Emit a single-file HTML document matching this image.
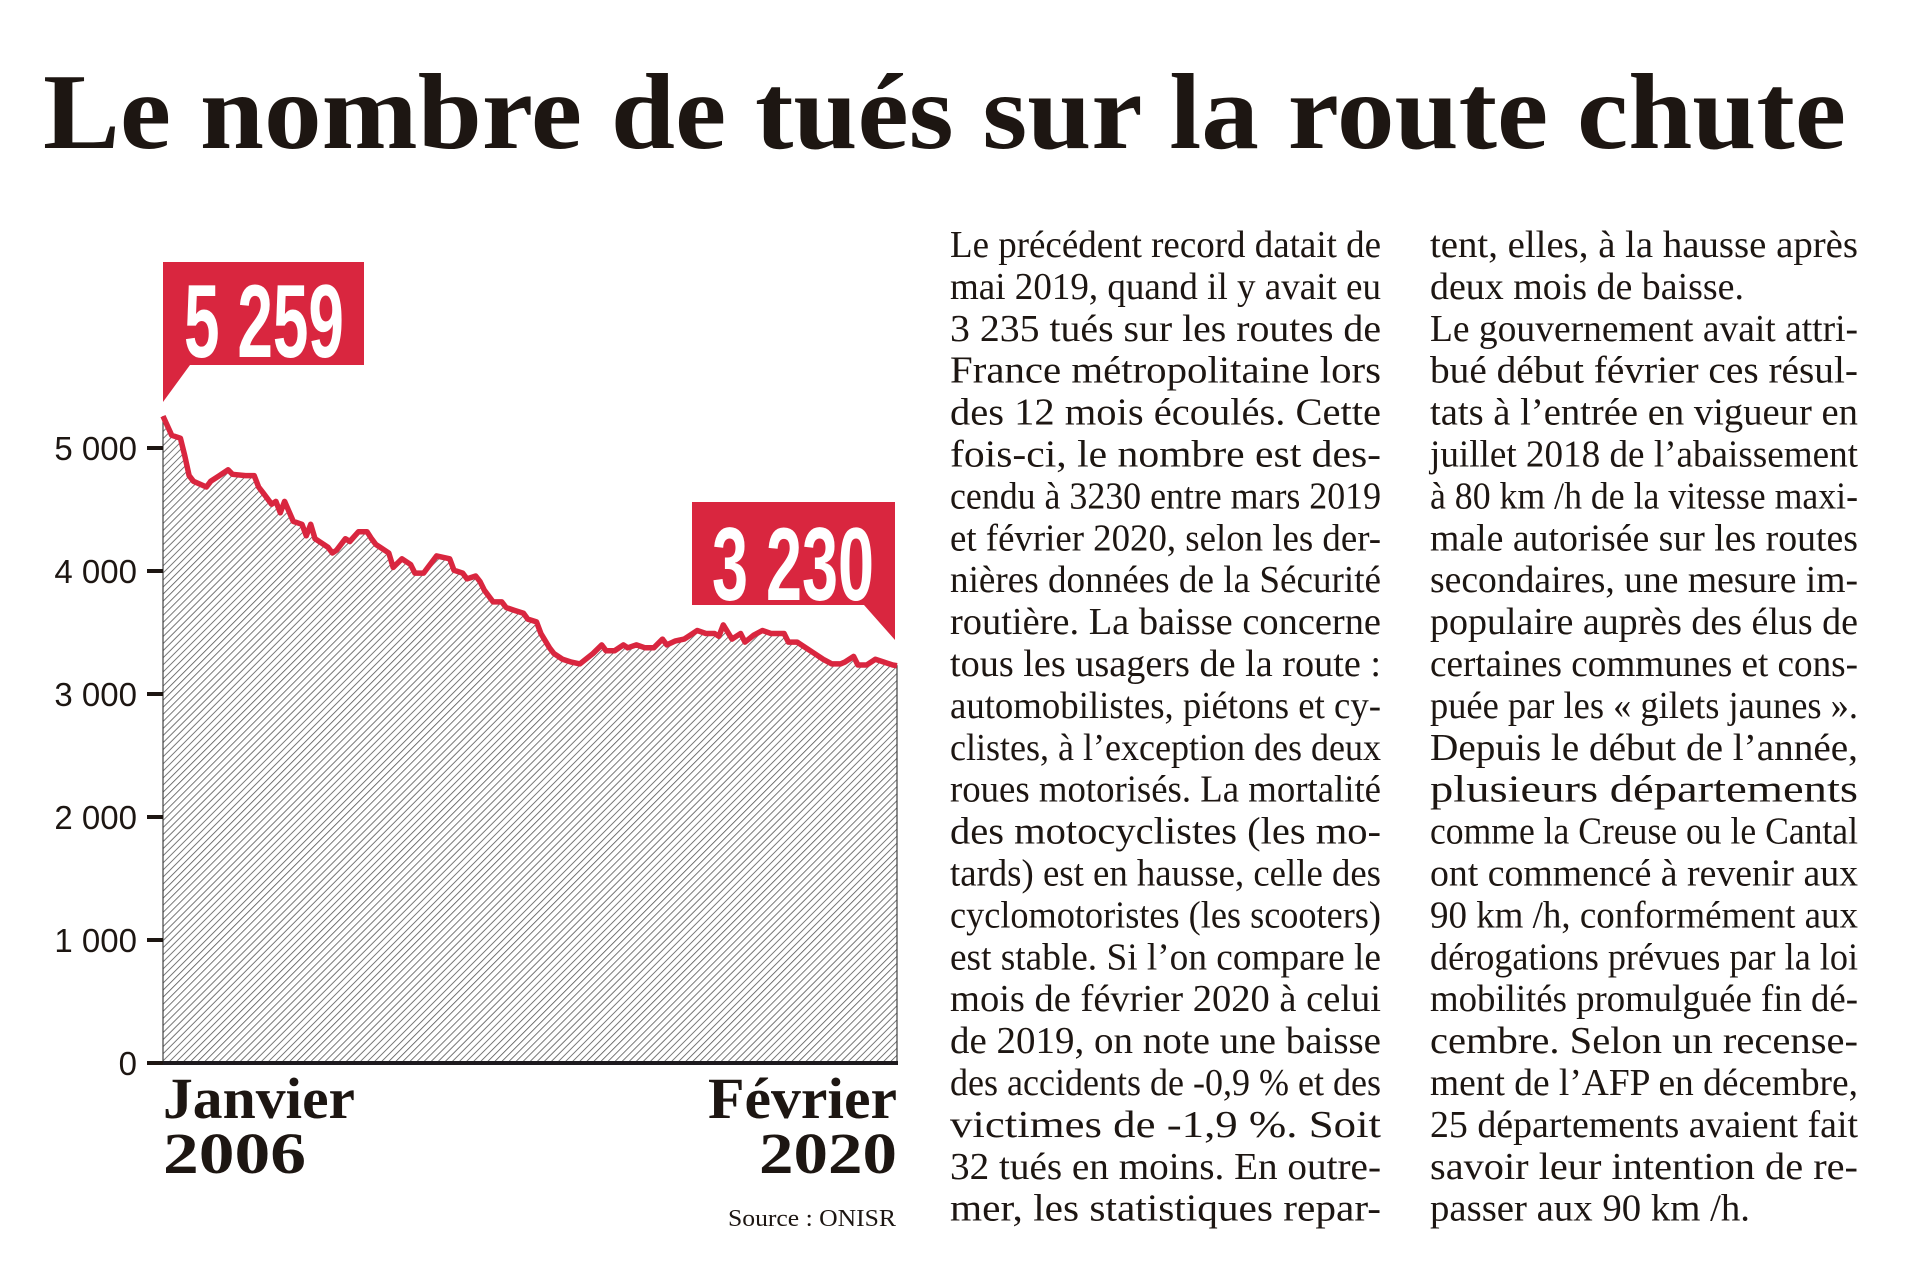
<!DOCTYPE html>
<html><head><meta charset="utf-8"><style>
html,body{margin:0;padding:0;background:#fff;}
svg{display:block;}
.body{font-family:"Liberation Serif",serif;font-size:38px;fill:#1d1612;}
</style></head><body>
<svg id="svg" width="1920" height="1278" viewBox="0 0 1920 1278" xmlns="http://www.w3.org/2000/svg">
<defs>
<pattern id="hatch" width="5" height="5" patternUnits="userSpaceOnUse" patternTransform="rotate(45)">
<rect width="5" height="5" fill="#fff"/>
<line x1="0" y1="0" x2="0" y2="5" stroke="#555" stroke-width="1.6"/>
</pattern>
</defs>
<text x="43" y="148" font-family="Liberation Serif,serif" font-weight="bold" font-size="108" fill="#1d1612" textLength="1803" lengthAdjust="spacingAndGlyphs">Le nombre de tués sur la route chute</text>
<g id="chart"></g>
<g id="col1" class="body"></g>
<g id="col2" class="body"></g>
</svg>
<script>
const months = [0,2,4,5,6,7,10,11,13,15,16,19,21,22,23,25,26,27,28,30,32,33,34,35,37,38,39,40,42,43,45,47,48,49,50,52,53,55,57,58,60,61,63,66,67,69,70,72,73,74,76,78,79,81,83,84,86,87,89,90,92,94,96,99,101,102,104,106,107,109,111,113,115,116,118,120,121,123,125,127,128,129,131,133,134,136,138,140,143,144,146,148,150,152,154,156,157,159,160,162,164,166,168,169];
const deaths = [5259,5103,5080,4940,4776,4730,4683,4730,4776,4823,4786,4776,4776,4683,4637,4543,4566,4473,4566,4403,4380,4286,4380,4263,4216,4193,4146,4170,4263,4240,4319,4319,4263,4216,4193,4146,4029,4099,4053,3983,3983,4029,4123,4099,4006,3983,3936,3959,3913,3843,3749,3749,3703,3679,3656,3609,3586,3492,3376,3329,3282,3259,3245,3329,3399,3352,3352,3399,3376,3399,3376,3376,3446,3399,3432,3446,3469,3516,3492,3492,3469,3562,3446,3492,3422,3478,3516,3492,3492,3422,3422,3376,3329,3282,3245,3245,3259,3306,3236,3236,3282,3259,3236,3230];
const yTicks = [0,1000,2000,3000,4000,5000];
const yTickLabels = ["0","1 000","2 000","3 000","4 000","5 000"];
const calloutStart = "5 259";
const calloutEnd = "3 230";

const NS = "http://www.w3.org/2000/svg";
const X0=163, X1=897, Y0=1063, PX_PER=0.123, MAXM=169;
function xs(m){return X0+(m/MAXM)*(X1-X0);}
function ys(v){return Y0-v*PX_PER;}
function mk(tag, attrs, parent, text){
  const e=document.createElementNS(NS,tag);
  for(const k in attrs) e.setAttribute(k,attrs[k]);
  if(text!==undefined) e.textContent=text;
  parent.appendChild(e); return e;
}
const chart=document.getElementById('chart');
let pts=months.map((m,i)=>xs(m).toFixed(1)+","+ys(deaths[i]).toFixed(1));
const area=mk('path',{d:"M"+xs(months[0])+","+Y0+" L"+pts.join(" L")+" L"+xs(months[months.length-1])+","+Y0+" Z",fill:"url(#hatch)",stroke:"#444","stroke-width":"1.2"},chart);


const base=mk('line',{x1:X0,y1:Y0,x2:X1+1,y2:Y0,stroke:"#1d1a1e","stroke-width":"4"},chart);


const line=mk('polyline',{points:pts.join(" "),fill:"none",stroke:"#d9263f","stroke-width":"5.5","stroke-linejoin":"round"},chart);


yTicks.forEach((v,i)=>{
  const t=mk('rect',{x:147,y:ys(v)-2,width:16,height:4,fill:"#1d1612"},chart);
  
  
  const l=mk('text',{x:137,y:ys(v)+12,"text-anchor":"end","font-family":"Liberation Sans,sans-serif","font-size":"33",fill:"#1d1612"},chart,yTickLabels[i]);
  
  
});
const c1=mk('g',{},chart);


mk('path',{d:"M163,262 H364 V365 H190 L163,402 Z",fill:"#d9263f"},c1);
mk('text',{x:184,y:357,"font-family":"Liberation Sans,sans-serif","font-weight":"bold","font-size":"104",fill:"#fff",textLength:"160",lengthAdjust:"spacingAndGlyphs"},c1,calloutStart);
const c2=mk('g',{},chart);


mk('path',{d:"M692,502 H895 V640 L864,605 H692 Z",fill:"#d9263f"},c2);
mk('text',{x:712,y:600,"font-family":"Liberation Sans,sans-serif","font-weight":"bold","font-size":"104",fill:"#fff",textLength:"162",lengthAdjust:"spacingAndGlyphs"},c2,calloutEnd);
const lab=[["Janvier",163,1118,192,"x-label-start-month"],["2006",163,1173,143,"x-label-start-year"],["Février",708,1118,189,"x-label-end-month"],["2020",759,1173,138,"x-label-end-year"]];
lab.forEach(a=>{
  const t=mk('text',{x:a[1],y:a[2],"font-family":"Liberation Serif,serif","font-weight":"bold","font-size":"58",fill:"#1d1612",textLength:a[3],lengthAdjust:"spacingAndGlyphs"},chart,a[0]);
  
  
});
const src=mk('text',{x:728,y:1226,"font-family":"Liberation Serif,serif","font-size":"24",fill:"#1d1612",textLength:"168",lengthAdjust:"spacingAndGlyphs"},chart,"Source : ONISR");



const col1=["Le précédent record datait de","mai 2019, quand il y avait eu","3 235 tués sur les routes de","France métropolitaine lors","des 12 mois écoulés. Cette","fois-ci, le nombre est des-","cendu à 3230 entre mars 2019","et février 2020, selon les der-","nières données de la Sécurité","routière. La baisse concerne","tous les usagers de la route :","automobilistes, piétons et cy-","clistes, à l’exception des deux","roues motorisés. La mortalité","des motocyclistes (les mo-","tards) est en hausse, celle des","cyclomotoristes (les scooters)","est stable. Si l’on compare le","mois de février 2020 à celui","de 2019, on note une baisse","des accidents de -0,9 % et des","victimes de -1,9 %. Soit","32 tués en moins. En outre-","mer, les statistiques repar-"];
const col2=["tent, elles, à la hausse après","deux mois de baisse.","Le gouvernement avait attri-","bué début février ces résul-","tats à l’entrée en vigueur en","juillet 2018 de l’abaissement","à 80 km /h de la vitesse maxi-","male autorisée sur les routes","secondaires, une mesure im-","populaire auprès des élus de","certaines communes et cons-","puée par les « gilets jaunes ».","Depuis le début de l’année,","plusieurs départements","comme la Creuse ou le Cantal","ont commencé à revenir aux","90 km /h, conformément aux","dérogations prévues par la loi","mobilités promulguée fin dé-","cembre. Selon un recense-","ment de l’AFP en décembre,","25 départements avaient fait","savoir leur intention de re-","passer aux 90 km /h."];
function fill(g,lines,x,w,short){
  lines.forEach((s,i)=>{
    const len = short[i]!==undefined ? short[i] : w;
    const t=mk('text',{x:x,y:(257+i*41.9).toFixed(1),textLength:len,lengthAdjust:"spacingAndGlyphs"},g,s);
    
    
  });
}
fill(document.getElementById('col1'),col1,950,431,{});
fill(document.getElementById('col2'),col2,1430,428,{1:314,23:320});
</script>
</body></html>
